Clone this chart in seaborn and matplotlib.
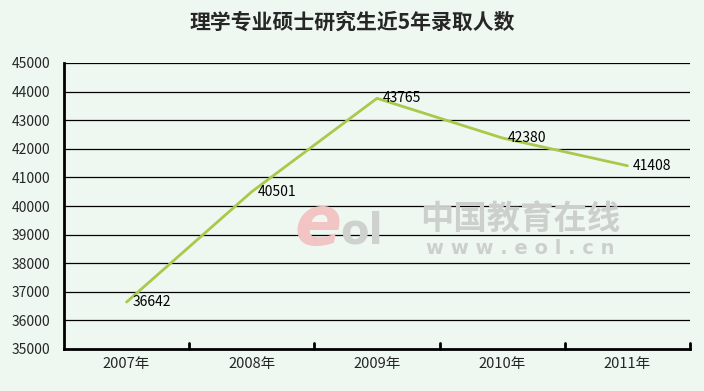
import matplotlib
matplotlib.use("Agg")
import matplotlib.pyplot as plt
import seaborn as sns
import pandas as pd

years = ["2007年", "2008年", "2009年", "2010年", "2011年"]
values = [36642, 40501, 43765, 42380, 41408]
yticks = [35000, 36000, 37000, 38000, 39000, 40000, 41000, 42000, 43000, 44000, 45000]
title = "理学专业硕士研究生近5年录取人数"

sns.set_theme(style="white")
plt.rcParams['font.family'] = ['Noto Sans CJK SC', 'DejaVu Sans']

bg = "#eef8f1"
fig = plt.figure(figsize=(7.04, 3.91), dpi=100, facecolor=bg)
ax = fig.add_axes([64/704, 1-349/391, (690-64)/704, (349-63)/391])
ax.set_facecolor(bg)

df = pd.DataFrame({"year": years, "value": values})

# watermark
fig.text(318/704, 1-226/391, "e", fontsize=50, color="#f2c4c4", ha="center", va="center",
         fontstyle="italic", fontweight="bold", family="DejaVu Sans", zorder=0)
fig.text(362/704, 1-232/391, "ol", fontsize=30, color="#cfd1cf", ha="center", va="center",
         fontweight="bold", family="DejaVu Sans", zorder=0)
fig.text(520/704, 1-220/391, "中国教育在线", fontsize=24, color="#cdcfcd", ha="center", va="center",
         fontweight="bold", zorder=0)
fig.text(520/704, 1-248/391, "w w w . e o l . c n", fontsize=14, color="#cdcfcd", ha="center",
         va="center", fontweight="bold", family="DejaVu Sans", zorder=0)

for y in yticks[1:]:
    ax.axhline(y, color="black", lw=0.9, zorder=1)

sns.lineplot(data=df, x="year", y="value", ax=ax, color="#a9c94a", lw=2, sort=False, zorder=3)

for i, v in enumerate(values):
    ax.text(i + 0.045, v, str(v), fontsize=10, ha="left", va="center", color="black", zorder=4)

ax.set_ylim(35000, 45000)
ax.set_xlim(-0.5, 4.5)
ax.set_yticks(yticks)
ax.set_yticklabels([str(t) for t in yticks], fontsize=10)
ax.set_xticks(range(len(years)))
ax.set_xticklabels(years, fontsize=10.5)
ax.set_xlabel("")
ax.set_ylabel("")
ax.tick_params(axis="x", length=0, pad=6)
ax.tick_params(axis="y", length=0, pad=10)
for x in [0.5, 1.5, 2.5, 3.5, 4.5]:
    ax.plot([x, x], [35000, 35000 + 10000 * 6 / 286], color="black", lw=2, clip_on=False, zorder=5)

for s in ["top", "right"]:
    ax.spines[s].set_visible(False)
for s in ["left", "bottom"]:
    ax.spines[s].set_color("black")
    ax.spines[s].set_linewidth(2)

fig.text(0.5, 1-22/391, title, fontsize=15, fontweight="bold", ha="center", va="center")

fig.savefig("out.png", dpi=100, facecolor=bg)
